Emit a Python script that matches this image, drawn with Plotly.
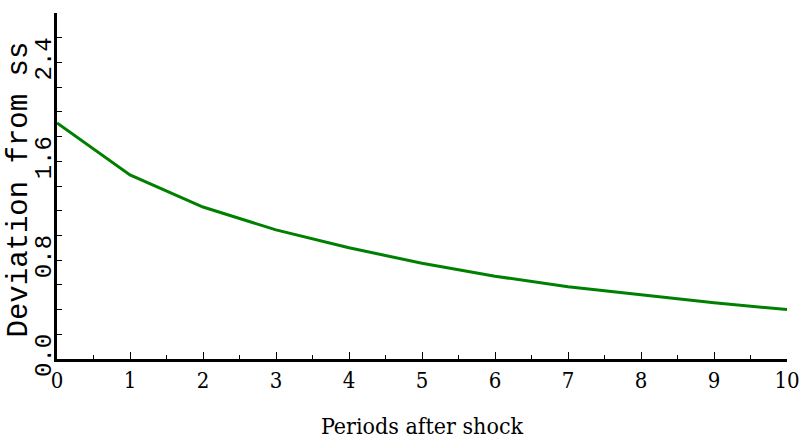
import plotly.graph_objects as go

# Impulse response: deviation from steady state after a shock
periods = [0, 1, 2, 3, 4, 5, 6, 7, 8, 9, 10]
deviation = [1.91, 1.49, 1.23, 1.045, 0.90, 0.775, 0.67, 0.585, 0.52, 0.455, 0.40]

y_tick_vals = [0.0, 0.8, 1.6, 2.4]
y_tick_text = ["0.0", "0.8", "1.6", "2.4"]

serif = "DejaVu Serif Condensed, Liberation Serif, serif"
mono = "Liberation Mono, DejaVu Sans Mono, monospace"

fig = go.Figure(
    go.Scatter(
        x=periods,
        y=deviation,
        mode="lines",
        line=dict(color="#008000", width=3),
        hoverinfo="x+y",
    )
)

fig.update_layout(
    width=799,
    height=442,
    margin=dict(l=57, r=12, t=13, b=83, autoexpand=False),
    plot_bgcolor="white",
    paper_bgcolor="white",
    showlegend=False,
    annotations=[
        dict(
            text="Deviation from ss",
            xref="paper", yref="paper",
            x=(19 - 57) / 730, y=0.49,
            xanchor="center", yanchor="middle",
            textangle=-90,
            showarrow=False,
            font=dict(family=mono, size=29, color="black"),
        )
    ],
)

fig.update_xaxes(
    range=[0, 10],
    automargin=False,
    showgrid=False,
    zeroline=False,
    showline=True,
    linecolor="black",
    linewidth=3,
    tickmode="linear",
    tick0=0,
    dtick=1,
    ticks="inside",
    ticklen=7,
    tickwidth=1,
    tickcolor="black",
    ticklabeloverflow="allow",
    minor=dict(dtick=0.5, ticks="inside", ticklen=4, tickwidth=1, tickcolor="black"),
    tickfont=dict(family=serif, size=22, color="black"),
    title=dict(
        text="Periods after shock",
        font=dict(family=serif, size=23, color="black"),
        standoff=26,
    ),
)

fig.update_yaxes(
    range=[0, 2.8],
    automargin=False,
    showgrid=False,
    zeroline=False,
    showline=True,
    linecolor="black",
    linewidth=3,
    tickmode="array",
    tickvals=y_tick_vals,
    ticktext=y_tick_text,
    tickangle=-90,
    ticks="inside",
    ticklen=5,
    tickwidth=1,
    tickcolor="black",
    ticklabelstandoff=-7,
    minor=dict(dtick=0.2, ticks="inside", ticklen=5, tickwidth=1, tickcolor="black"),
    tickfont=dict(family=mono, size=24, color="black"),
)

fig.write_html("out.html")
